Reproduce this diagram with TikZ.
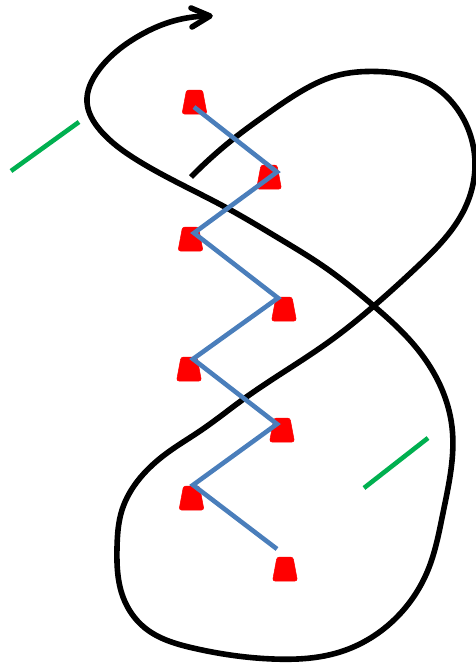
\documentclass[tikz,border=0pt]{standalone}
\usetikzlibrary{hobby}
\definecolor{conered}{RGB}{255,0,0}
\definecolor{zigblue}{RGB}{74,126,187}
\definecolor{markgreen}{RGB}{0,176,80}
\tikzset{
  course/.style={line width=5.6pt,black,line cap=butt,line join=round},
  zig/.style={line width=4.6pt,zigblue,line join=miter},
  tick/.style={line width=4.6pt,markgreen},
  cone/.style={fill=conered,draw=conered,line width=0.5pt,rounded corners=2.5pt}
}
\newcommand{\conemark}[2]{\path[cone] (#1-8,#2) -- (#1+8,#2) -- (#1+12.5,#2+24) -- (#1-12.5,#2+24) -- cycle;}
\begin{document}
\begin{tikzpicture}[x=1pt,y=-1pt,use Hobby shortcut]
\useasboundingbox (0,0) rectangle (476,664);
\foreach \a/\b in {194.5/90,269/165,190.5/227,284/297,189/357,282/418,191.5/486,285/557}{\conemark{\a}{\b}}
\draw[course] (191,177) .. (237,136) .. (267,114) .. (300,92) .. (335,76) .. (377,71.5) .. (430,84) .. (460,113) .. (475,167) .. (465,208) .. (417,267) .. (375,305) .. (330,341) .. (245,398) .. (200,431) .. (167,453) .. (140,478) .. (122,510) .. (117,548) .. (123,597) .. (145,628) .. (193,648) .. (273,659) .. (340,652) .. (397,617) .. (428,570) .. (443,513) .. (452,427) .. (440,385) .. (407,337) .. (375,307) .. (323,266) .. (280,239) .. (225,207) .. (137,160) .. (100,130) .. (87,102) .. (98,71) .. (137,37) .. (170,22) .. (208,16);
\draw[course,line cap=round] (191,8) -- (210,16) -- (192,27);
\draw[zig] (194,107) -- (277,172) -- (194,233) -- (278,298) -- (193,359) -- (277,424) -- (193,485) -- (277,549);
\draw[tick] (11,171) -- (79,122);
\draw[tick] (364,488) -- (428,438);
\end{tikzpicture}
\end{document}
